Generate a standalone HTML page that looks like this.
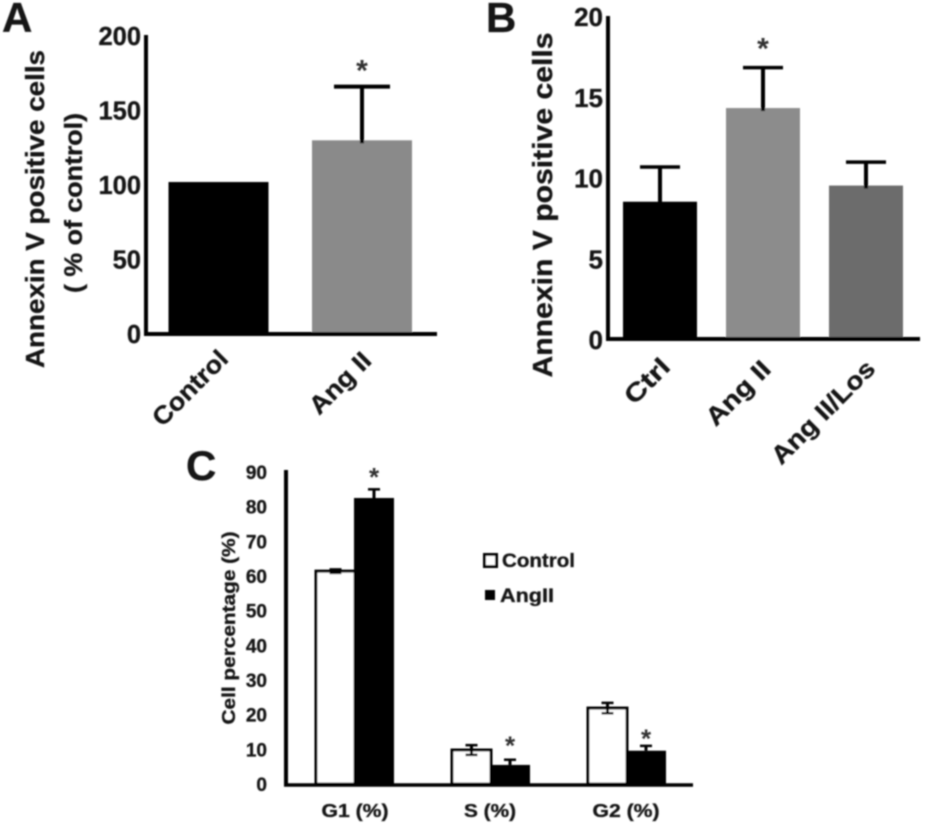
<!DOCTYPE html>
<html>
<head>
<meta charset="utf-8">
<title>Annexin V and cell cycle charts</title>
<style>
html,body{margin:0;padding:0;background:#fff;width:925px;height:832px;overflow:hidden}
svg{display:block}
text{font-family:"Liberation Sans",sans-serif;font-weight:bold;fill:#161616;stroke:#161616;stroke-width:0.35px}
</style>
</head>
<body>
<svg id="figure" width="925" height="832" viewBox="0 0 925 832" xmlns="http://www.w3.org/2000/svg">
  <defs><filter id="soft" x="-2%" y="-2%" width="104%" height="104%"><feGaussianBlur stdDeviation="0.7"/></filter></defs>
  <g id="root" filter="url(#soft)"></g>
</svg>
<script>
// Panel A data
const aCategories = ['Control', 'Ang II'];
const aValues = [102, 130];
const aErrors = [0, 36];
const aTicks = [0, 50, 100, 150, 200];
// Panel B data
const bCategories = ['Ctrl', 'Ang II', 'Ang II/Los'];
const bValues = [8.5, 14.3, 9.5];
const bErrors = [2.15, 2.5, 1.45];
const bTicks = [0, 5, 10, 15, 20];
// Panel C data
const cCategories = ['G1 (%)', 'S (%)', 'G2 (%)'];
const cControl = [61.4, 9.8, 21.9];
const cControlErrors = [0.5, 1.4, 1.5];
const cAngII = [82.5, 5.5, 9.6];
const cAngIIErrors = [2.5, 1.5, 1.4];
const cTicks = [0, 10, 20, 30, 40, 50, 60, 70, 80, 90];

const root = document.getElementById('root');
const NS = 'http://www.w3.org/2000/svg';
function make(tag, attrs, txt) {
  const el = document.createElementNS(NS, tag);
  for (const k in attrs) el.setAttribute(k, attrs[k]);
  if (txt !== undefined) el.textContent = txt;
  root.appendChild(el);
  return el;
}
function line(x1, y1, x2, y2, w, name) {
  const el = make('line', {x1: x1, y1: y1, x2: x2, y2: y2, stroke: '#000', 'stroke-width': w});
  
  
  return el;
}
function label(x, y, s, size, anchor, name, extra) {
  const el = make('text', Object.assign({x: x, y: y, 'font-size': size, 'text-anchor': anchor}, extra || {}), s);
  
  
  return el;
}
function bar(x, w, yTop, yBase, fill, name, stroke) {
  const el = make('rect', {x: x, y: yTop, width: w, height: yBase - yTop, fill: fill, stroke: stroke || 'none', 'stroke-width': stroke ? 3 : 0});
  
  
  return el;
}
function star(cx, cy, size, name) {
  return label(cx, cy + size * 0.49, '*', size, 'middle', name, {style: 'fill:#333;stroke:none'});
}
function slug(s) { return s.toLowerCase().replace(/[^a-z0-9]+/g, '-').replace(/-$/, ''); }

/* ---------- Panel A ---------- */
const yA = v => 334 - v * (298 / 200);
const xA = i => 218.5 + i * 143.5;
label(2, 32, 'A', 42, 'start', 'panel-a-label');
aTicks.forEach(t => label(141, yA(t) + 9, String(t), 25.5, 'end', 'panel-a-y-tick-' + t));
label(0, 0, 'Annexin V positive cells', 26, 'middle', 'panel-a-y-axis-title', {transform: 'translate(44 209) rotate(-90)', textLength: 318, lengthAdjust: 'spacingAndGlyphs'});
label(0, 0, '( % of control)', 25, 'middle', 'panel-a-y-axis-subtitle', {transform: 'translate(82 203) rotate(-90)', textLength: 180, lengthAdjust: 'spacingAndGlyphs'});
const aLabelLayout = [[-22.5, 394, 95], [-16, 389, 76]];
aCategories.forEach((c, i) => {
  const fill = ['#000', '#8a8a8a'][i];
  bar(xA(i) - 50, 100, yA(aValues[i]), 334, fill, 'panel-a-bar-' + slug(c));
  if (aErrors[i] > 0) {
    const top = yA(aValues[i] + aErrors[i]);
    line(xA(i), top, xA(i), yA(aValues[i]) + 3, 4, 'panel-a-error-stem-' + slug(c));
    line(xA(i) - 28, top, xA(i) + 28, top, 4, 'panel-a-error-cap-' + slug(c));
  }
  label(0, 0, c, 25, 'middle', 'panel-a-x-label-' + slug(c), {transform: 'translate(' + (xA(i) + aLabelLayout[i][0]) + ' ' + aLabelLayout[i][1] + ') rotate(-45)', textLength: aLabelLayout[i][2], lengthAdjust: 'spacingAndGlyphs'});
});
star(xA(1), 66, 30, 'panel-a-significance-star');
line(146, 35, 146, 335, 4, 'panel-a-y-axis');
line(144, 334, 437, 334, 4, 'panel-a-x-axis');

/* ---------- Panel B ---------- */
const yB = v => 339 - v * (323 / 20);
const xB = i => 660 + i * 103;
label(486, 32, 'B', 42, 'start', 'panel-b-label');
bTicks.forEach(t => label(603, yB(t) + 10, String(t), 26, 'end', 'panel-b-y-tick-' + t));
label(0, 0, 'Annexin V positive cells', 28, 'middle', 'panel-b-y-axis-title', {transform: 'translate(552 205) rotate(-90)', textLength: 345, lengthAdjust: 'spacingAndGlyphs'});
const bLabelLayout = [[-7, 387, 53], [-19, 399, 80], [-37, 418, 135]];
bCategories.forEach((c, i) => {
  const fill = ['#000', '#8c8c8c', '#6c6c6c'][i];
  bar(xB(i) - 37, 74, yB(bValues[i]), 339, fill, 'panel-b-bar-' + slug(c));
  const top = yB(bValues[i] + bErrors[i]);
  line(xB(i), top, xB(i), yB(bValues[i]) + 3, 4, 'panel-b-error-stem-' + slug(c));
  line(xB(i) - 20, top, xB(i) + 20, top, 3.5, 'panel-b-error-cap-' + slug(c));
  label(0, 0, c, 25, 'middle', 'panel-b-x-label-' + slug(c), {transform: 'translate(' + (xB(i) + bLabelLayout[i][0]) + ' ' + bLabelLayout[i][1] + ') rotate(-45)', textLength: bLabelLayout[i][2], lengthAdjust: 'spacingAndGlyphs'});
});
star(xB(1), 44, 30, 'panel-b-significance-star');
line(608, 16, 608, 341, 4, 'panel-b-y-axis');
line(606, 339, 920, 339, 4, 'panel-b-x-axis');

/* ---------- Panel C ---------- */
const yC = v => 784 - v * (312 / 90);
const xC = i => 354 + i * 136;
label(186, 480, 'C', 42, 'start', 'panel-c-label');
cTicks.forEach(t => label(267, yC(t) + 7, String(t), 19, 'end', 'panel-c-y-tick-' + t));
label(0, 0, 'Cell percentage (%)', 18, 'middle', 'panel-c-y-axis-title', {transform: 'translate(235 628) rotate(-90)', textLength: 193, lengthAdjust: 'spacingAndGlyphs'});
const cStarGaps = [16, 18, 11];
cCategories.forEach((c, i) => {
  bar(xC(i) - 38, 39, yC(cControl[i]), 784, '#fff', 'panel-c-bar-control-' + slug(c), '#000');
  bar(xC(i) + 0, 40, yC(cAngII[i]), 784, '#000', 'panel-c-bar-angii-' + slug(c));
  const cxA = xC(i) - 18.5, cxB = xC(i) + 20;
  const a1 = yC(cControl[i] + cControlErrors[i]), a2 = yC(cControl[i] - cControlErrors[i]);
  line(cxA, a1, cxA, a2, 3, 'panel-c-error-stem-control-' + slug(c));
  line(cxA - 6, a1, cxA + 6, a1, 2.5, 'panel-c-error-cap-top-control-' + slug(c));
  line(cxA - 6, a2, cxA + 6, a2, 2.5, 'panel-c-error-cap-bottom-control-' + slug(c));
  const b1 = yC(cAngII[i] + cAngIIErrors[i]), b2 = yC(cAngII[i]);
  line(cxB, b1, cxB, b2, 3, 'panel-c-error-stem-angii-' + slug(c));
  line(cxB - 6, b1, cxB + 6, b1, 2.5, 'panel-c-error-cap-angii-' + slug(c));
  label(xC(i) + (i === 0 ? 1 : 0), 817, c, 18, 'middle', 'panel-c-x-label-' + slug(c), {textLength: i === 1 ? 52 : 67, lengthAdjust: 'spacingAndGlyphs'});
  star(cxB, b1 - cStarGaps[i], 26, 'panel-c-significance-star-' + slug(c));
});
line(286, 470, 286, 786, 4, 'panel-c-y-axis');
line(284, 785, 693, 785, 3.5, 'panel-c-x-axis');

const legendBoxControl = make('rect', {x: 484.5, y: 554.5, width: 12, height: 12, fill: '#fff', stroke: '#000', 'stroke-width': 3});


label(502, 567, 'Control', 19, 'start', 'legend-entry-control', {textLength: 73, lengthAdjust: 'spacingAndGlyphs'});
const legendBoxAng = make('rect', {x: 485, y: 590, width: 10, height: 10, fill: '#000'});


label(500, 602, 'AngII', 19, 'start', 'legend-entry-angii', {textLength: 54, lengthAdjust: 'spacingAndGlyphs'});
</script>
</body>
</html>
